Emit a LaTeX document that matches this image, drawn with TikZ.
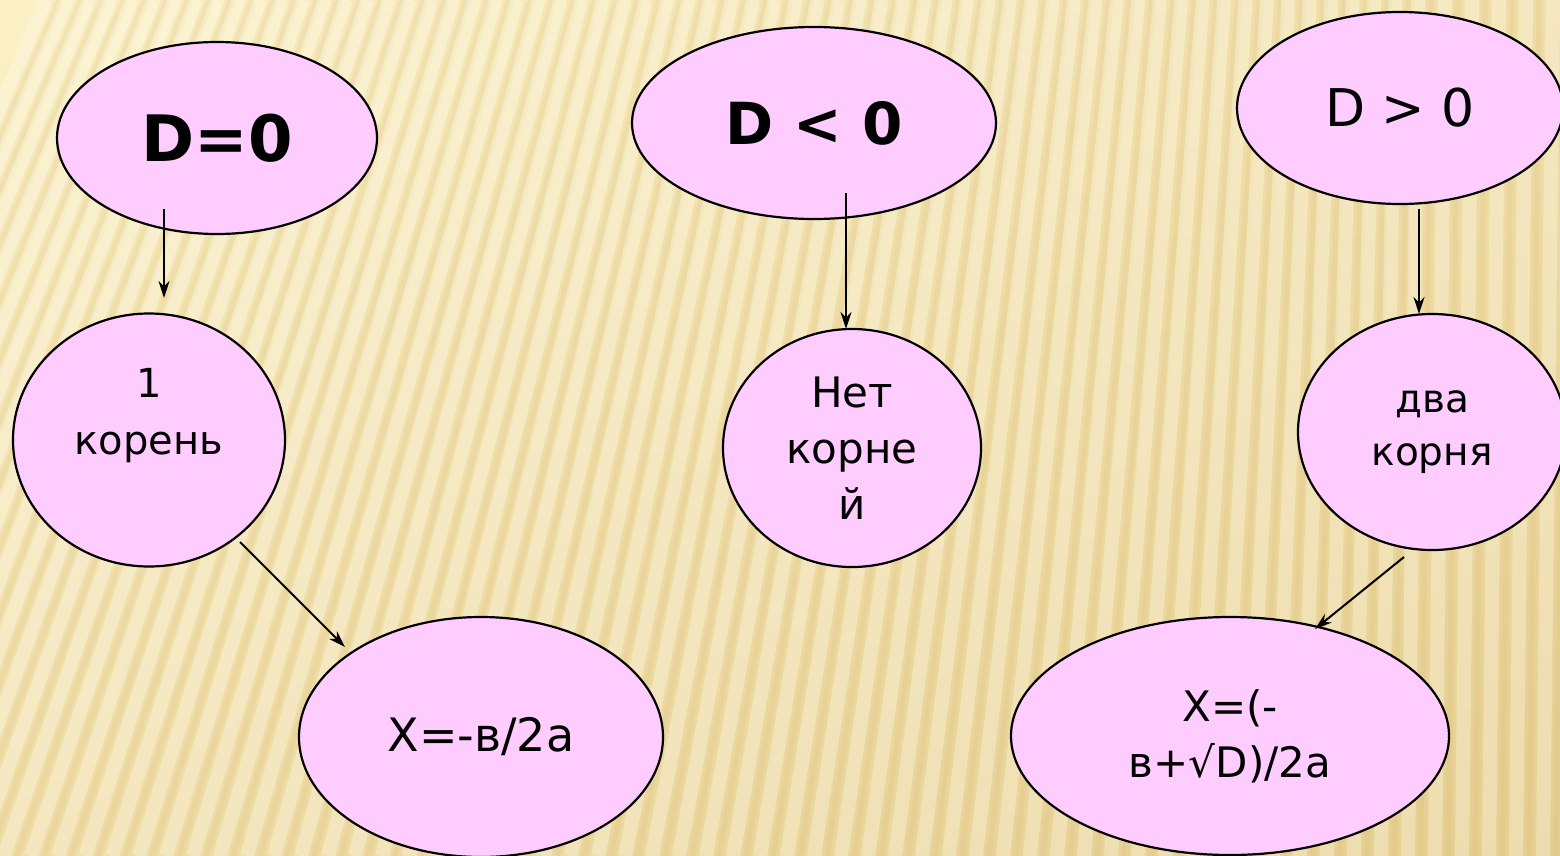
\documentclass[tikz,border=0pt]{standalone}
\usepackage{fontspec}
\setmainfont{DejaVu Sans}
\usetikzlibrary{arrows.meta,shapes.geometric}

\definecolor{bgLight}{RGB}{252,241,198}
\definecolor{bgDark}{RGB}{232,209,148}
\definecolor{stripeDark}{RGB}{205,172,95}
\definecolor{ovalPink}{RGB}{255,204,255}

\begin{document}
\begin{tikzpicture}[x=1pt, y=-1pt,
    oval/.style={ellipse, draw=black, line width=2.2pt, fill=ovalPink, inner sep=0pt, align=center},
    arr/.style={-{Stealth[length=17pt,width=11pt]}, line width=2pt}]
    \useasboundingbox (0,0) rectangle (1560,856);
    \clip (0,0) rectangle (1560,856);

    % Background with soft stripes
    \shade[left color=bgLight, right color=bgDark] (0,0) rectangle (1560,856);
    \shade[top color=bgLight, bottom color=bgDark, opacity=0.5] (0,0) rectangle (1560,856);
    \foreach \xb in {-320,-293,...,1600} {
        \pgfmathsetmacro{\xt}{\xb + max(300*(1 - \xb/1450), 10)}
        \draw[white, opacity=0.25, line width=14pt] (\xb,856) -- (\xt,0);
        \draw[stripeDark, opacity=0.08, line width=11pt] (\xb+13,856) -- (\xt+13,0);
        \draw[stripeDark, opacity=0.10, line width=5pt] (\xb+13,856) -- (\xt+13,0);
    }

    % Cases of the discriminant
    \node[oval, font=\bfseries\fontsize{64}{76}\selectfont, minimum width=320pt, minimum height=192pt] (dzero) at (217,138) {D=0};
    \node[oval, font=\bfseries\fontsize{58}{70}\selectfont, minimum width=364pt, minimum height=192pt] (dneg) at (814,123) {D < 0};
    \node[oval, font=\fontsize{52}{64}\selectfont, minimum width=326pt, minimum height=192pt] (dpos) at (1400,108) {D > 0};

    % Number of roots
    \node[oval, font=\fontsize{40}{57}\selectfont, minimum width=272pt, minimum height=253pt] (one) at (149,440) {1\\корень\\\phantom{к}};
    \node[oval, font=\fontsize{42}{56}\selectfont, minimum width=258pt, minimum height=238pt] (none) at (852,448) {Нет\\корне\\й};
    \node[oval, font=\fontsize{39}{53}\selectfont, minimum width=268pt, minimum height=236pt] (two) at (1432,432) {два\\корня};

    % Formulas for the roots
    \node[oval, font=\fontsize{46}{56}\selectfont, minimum width=364pt, minimum height=240pt] (xone) at (481,737) {X=-в/2a};
    \node[oval, font=\fontsize{42}{56}\selectfont, minimum width=438pt, minimum height=238pt] (xtwo) at (1230,736) {X=(-\\в+√D)/2a};

    % Arrows
    \coordinate (s1) at (164,209);  \coordinate (e1) at (164,298);
    \coordinate (s2) at (846,193);  \coordinate (e2) at (846,329);
    \coordinate (s3) at (1419,209); \coordinate (e3) at (1419,314);
    \coordinate (s4) at (240,542);  \coordinate (e4) at (345,647);
    \coordinate (s5) at (1404,557); \coordinate (e5) at (1315,629);
    \foreach \s/\e in {s1/e1, s2/e2, s3/e3, s4/e4, s5/e5}
        \draw[arr] (\s) -- (\e);
\end{tikzpicture}
\end{document}
